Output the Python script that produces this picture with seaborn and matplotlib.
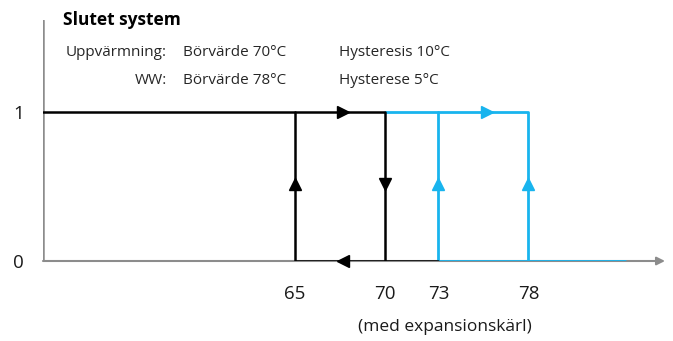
import matplotlib
matplotlib.use("Agg")
import matplotlib.pyplot as plt
import seaborn as sns
import pandas as pd

sns.set_theme(style="white")
plt.rcParams['font.family'] = ['Open Sans', 'DejaVu Sans']

# --- data ---
x_ticks = [65, 70, 73, 78]
y_ticks = [0, 1]
# heating (black) hysteresis path, two segments
black_seg = [1, 1, 1, 2, 2, 2]
black_x = [51, 70, 70, 73, 65, 65]
black_y = [1, 1, 0, 0, 0, 1]
# hot water (blue) hysteresis path, two segments
blue_seg = [1, 1, 1, 2, 2, 2]
blue_x = [70, 78, 78, 73, 73, 83.4]
blue_y = [1, 1, 0, 1, 0, 0]
# direction arrows: x, y, marker
black_arrow_x = [67.7, 67.7, 65, 70]
black_arrow_y = [1, 0, 0.52, 0.52]
black_arrow_m = ['>', '<', '^', 'v']
blue_arrow_x = [75.7, 73, 78]
blue_arrow_y = [1, 0.52, 0.52]
blue_arrow_m = ['>', '^', '^']

BLACK = "#000000"
BLUE = "#18B4EE"
GREY = "#8C8C8C"

W, H = 673, 341
fig = plt.figure(figsize=(W / 100, H / 100), dpi=100)
ax = fig.add_axes([43 / W, 80 / H, (665 - 43) / W, (261 - 20) / H])
ax.set_xlim(51, 85.6)
ax.set_ylim(0, (261 - 20) / 149)

for s in ax.spines.values():
    s.set_visible(False)

# axes lines
ax.annotate("", xy=(85.6, 0), xytext=(51, 0), xycoords="data",
            arrowprops=dict(arrowstyle="-|>", color=GREY, lw=1.5,
                            mutation_scale=12, shrinkA=0, shrinkB=0),
            annotation_clip=False)
ax.axvline(51, color=GREY, lw=1.8)

dfb = pd.DataFrame({"x": black_x, "y": black_y, "seg": black_seg})
dfc = pd.DataFrame({"x": blue_x, "y": blue_y, "seg": blue_seg})
sns.lineplot(data=dfc, x="x", y="y", units="seg", estimator=None, sort=False,
             color=BLUE, lw=2.0, ax=ax, zorder=3)
sns.lineplot(data=dfb, x="x", y="y", units="seg", estimator=None, sort=False,
             color=BLACK, lw=1.8, ax=ax, zorder=4)

for xx, yy, m in zip(black_arrow_x, black_arrow_y, black_arrow_m):
    ax.plot([xx], [yy], marker=m, color=BLACK, markersize=8, zorder=5,
            ls="none", clip_on=False)
for xx, yy, m in zip(blue_arrow_x, blue_arrow_y, blue_arrow_m):
    ax.plot([xx], [yy], marker=m, color=BLUE, markersize=8, zorder=5,
            ls="none", clip_on=False)

ax.set_xticks(x_ticks)
ax.set_xticklabels([str(v) for v in x_ticks], fontsize=13.5, color="#1a1a1a")
ax.set_yticks(y_ticks)
ax.set_yticklabels([str(v) for v in y_ticks], fontsize=13.5, color="#1a1a1a")
ax.tick_params(axis="x", length=0, pad=17)
ax.tick_params(axis="y", length=6, width=1.5, color=GREY, pad=8)
ax.yaxis.get_major_ticks()[0].tick1line.set_visible(False)
ax.set_xlabel("")
ax.set_ylabel("")

fig.text(445 / W, 1 - 327 / H, "(med expansionskärl)", fontsize=12.5,
         color="#1a1a1a", ha="center", va="center")

# header texts
fs = 11
fig.text(63 / W, 1 - 20 / H, "Slutet system", fontsize=12.5, fontweight="bold",
         va="center", ha="left", color="#000000")
fig.text(167 / W, 1 - 52 / H, "Uppvärmning:", fontsize=fs, va="center", ha="right")
fig.text(183 / W, 1 - 52 / H, "Börvärde 70°C", fontsize=fs, va="center", ha="left")
fig.text(339 / W, 1 - 52 / H, "Hysteresis 10°C", fontsize=fs, va="center", ha="left")
fig.text(167 / W, 1 - 80 / H, "WW:", fontsize=fs, va="center", ha="right")
fig.text(183 / W, 1 - 80 / H, "Börvärde 78°C", fontsize=fs, va="center", ha="left")
fig.text(339 / W, 1 - 80 / H, "Hysterese 5°C", fontsize=fs, va="center", ha="left")

fig.savefig("out.png", dpi=100, facecolor="white")
